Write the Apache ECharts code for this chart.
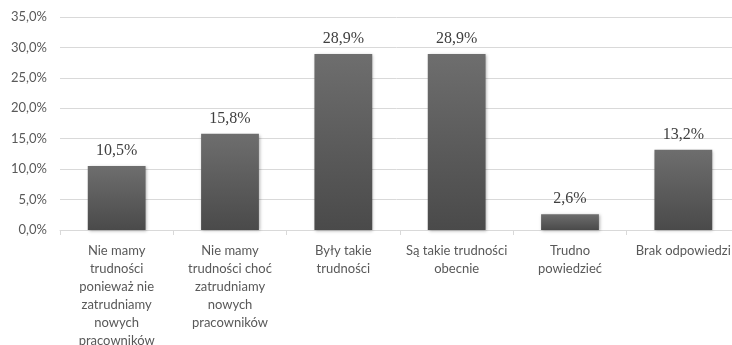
<!DOCTYPE html>
<html>
<head>
<meta charset="utf-8">
<script src="https://cdn.jsdelivr.net/npm/echarts@6/dist/echarts.min.js"></script>
<style>
  html, body { margin: 0; padding: 0; background: #fff; }
  #chart { width: 732px; height: 345px; }
</style>
</head>
<body>
<div id="chart"></div>
<script>
const categories = [
  'Nie mamy\ntrudności\nponieważ nie\nzatrudniamy\nnowych\npracowników',
  'Nie mamy\ntrudności choć\nzatrudniamy\nnowych\npracowników',
  'Były takie\ntrudności',
  'Są takie trudności\nobecnie',
  'Trudno\npowiedzieć',
  'Brak odpowiedzi',
];
const values = [10.5, 15.8, 28.9, 28.9, 2.6, 13.2];

const fmt = (v) => v.toFixed(1).replace('.', ',') + '%';

const chart = echarts.init(document.getElementById('chart'));
chart.setOption({
  animation: false,
  grid: { left: 60, width: 680, top: 17, height: 213, outerBoundsMode: 'none', containLabel: false },
  xAxis: {
    type: 'category',
    data: categories,
    axisLine: { lineStyle: { color: '#d9d9d9' } },
    axisTick: { show: true, length: 5, lineStyle: { color: '#d9d9d9' } },
    axisLabel: {
      interval: 0,
      color: '#595959',
      fontFamily: 'Lato',
      fontSize: 13,
      lineHeight: 18,
      margin: 12,
    },
  },
  yAxis: {
    type: 'value',
    min: 0,
    max: 35,
    interval: 5,
    axisLabel: {
      formatter: fmt,
      color: '#595959',
      fontFamily: 'Lato',
      fontSize: 13,
      margin: 13,
    },
    splitLine: { lineStyle: { color: '#d9d9d9' } },
  },
  series: [{
    type: 'bar',
    data: values,
    barWidth: '51%',
    itemStyle: {
      color: new echarts.graphic.LinearGradient(0, 0, 0, 1, [
        { offset: 0, color: '#6e6e6e' },
        { offset: 1, color: '#4a4a4a' },
      ]),
      shadowBlur: 3,
      shadowColor: 'rgba(0,0,0,0.3)',
      shadowOffsetX: 1,
      shadowOffsetY: 1,
    },
    label: {
      show: true,
      position: 'top',
      distance: 7,
      formatter: (p) => fmt(p.value),
      color: '#404040',
      fontFamily: 'Liberation Serif',
      fontSize: 16,
    },
  }],
});
</script>
</body>
</html>
